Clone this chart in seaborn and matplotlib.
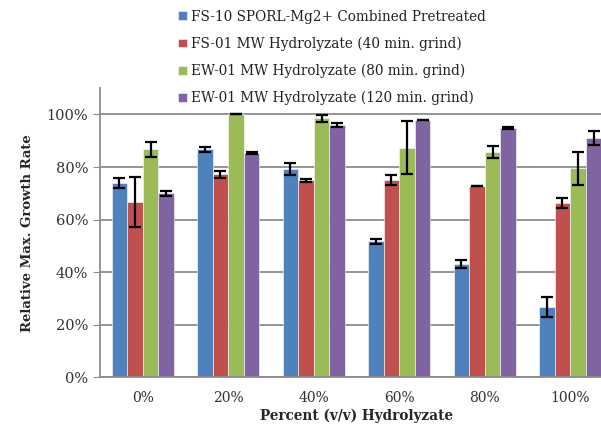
import numpy as np
import pandas as pd
import matplotlib
matplotlib.use("Agg")
import matplotlib.pyplot as plt
import seaborn as sns
from matplotlib.ticker import PercentFormatter

sns.set_style("white")
plt.rcParams['font.family'] = ['DejaVu Serif']

# categories
groups = ["0%", "20%", "40%", "60%", "80%", "100%"]
series = ["FS-10 SPORL-Mg2+ Combined Pretreated",
          "FS-01 MW Hydrolyzate (40 min. grind)",
          "EW-01 MW Hydrolyzate (80 min. grind)",
          "EW-01 MW Hydrolyzate (120 min. grind)"]

# values (%), with error bar half-widths
fs10 = [73.9, 86.7, 79.2, 51.8, 43.1, 26.6]
fs10_err = [2.0, 1.0, 2.2, 0.9, 1.5, 3.8]
fs01 = [66.8, 77.2, 75.0, 75.0, 72.7, 66.4]
fs01_err = [9.5, 1.4, 0.5, 1.8, 0.0, 2.0]
ew80 = [86.7, 100.0, 98.5, 87.4, 85.8, 79.5]
ew80_err = [2.7, 0.0, 1.2, 10.0, 2.2, 6.2]
ew120 = [70.0, 85.4, 95.9, 97.8, 94.8, 91.1]
ew120_err = [1.0, 0.5, 0.7, 0.0, 0.4, 2.8]

colors = ["#4F81BD", "#C0504D", "#9BBB59", "#8064A2"]

vals = [fs10, fs01, ew80, ew120]
errs = [fs10_err, fs01_err, ew80_err, ew120_err]
df = pd.DataFrame({
    "group": groups * 4,
    "series": np.repeat(series, len(groups)),
    "value": np.concatenate(vals) / 100.0,
})

fig = plt.figure(figsize=(6.01, 4.24), dpi=100)
ax = fig.add_axes([0.1664, 0.110, 0.8536, 0.682])

sns.barplot(data=df, x="group", y="value", hue="series", order=groups,
            hue_order=series, palette=colors, width=0.73, gap=0,
            saturation=1, errorbar=None, ax=ax, zorder=2,
            edgecolor="white", linewidth=0.4)

# error bars on top of each bar
for cont, err in zip(ax.containers, errs):
    xs = [p.get_x() + p.get_width() / 2 for p in cont.patches]
    ys = [p.get_height() for p in cont.patches]
    ax.errorbar(xs, ys, yerr=np.array(err) / 100.0, fmt="none",
                ecolor="black", elinewidth=1.6, capsize=4, capthick=1.6,
                zorder=3)

ax.set_ylim(0, 1.1)
ax.set_xlim(-0.5, 5.5)
ax.set_yticks(np.arange(0, 1.01, 0.2))
ax.yaxis.set_major_formatter(PercentFormatter(1.0, decimals=0))
ax.grid(axis="y", color="#8c8c8c", linewidth=1.3, zorder=0)
ax.set_axisbelow(True)
for s in ["top", "right"]:
    ax.spines[s].set_visible(False)
for s in ["left", "bottom"]:
    ax.spines[s].set_color("#8c8c8c")
    ax.spines[s].set_linewidth(1.3)
ax.tick_params(axis="y", left=True, length=5, color="#8c8c8c",
               labelsize=10.5, labelcolor="#333333")
ax.tick_params(axis="x", bottom=False, labelsize=10, labelcolor="#333333",
               pad=6)

ax.set_xlabel("Percent (v/v) Hydrolyzate", fontsize=9.8, fontweight="bold",
              labelpad=3)
ax.set_ylabel("Relative Max. Growth Rate", fontsize=9.5, fontweight="bold",
              labelpad=9)

ax.legend(loc="upper left", bbox_to_anchor=(0.281, 1.0),
          bbox_transform=fig.transFigure, frameon=False, fontsize=9.8,
          handlelength=0.6, handleheight=0.6, handletextpad=0.3,
          labelspacing=0.95, borderaxespad=0.3, labelcolor="#222222")

fig.savefig("out.png", dpi=100)
